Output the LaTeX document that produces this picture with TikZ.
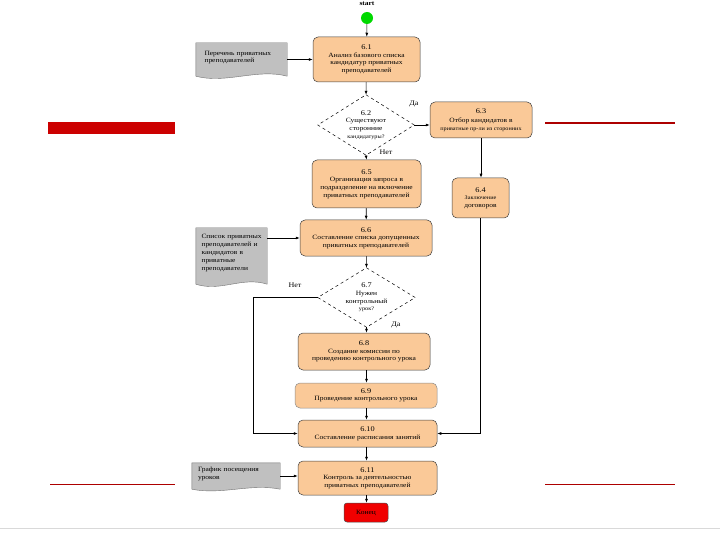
\documentclass[tikz,border=0pt]{standalone}
\usepackage{fontspec}
\setmainfont{Liberation Serif}[FakeStretch=1.15]
\usetikzlibrary{arrows.meta,calc}
\definecolor{boxfill}{RGB}{250,201,152}
\definecolor{docfill}{RGB}{192,192,192}
\definecolor{slidered}{RGB}{204,0,0}
\definecolor{endred}{RGB}{240,0,0}
\newcommand{\nb}[1]{{\fontsize{7.2}{8}\selectfont #1}}
\newcommand{\sm}[1]{{\fontsize{5.4}{6.5}\selectfont #1}}
\begin{document}
\begin{tikzpicture}[x=1pt,y=-1pt,
  txt/.style={font=\fontsize{6.5}{7.6}\selectfont, align=center, inner sep=1pt},
  box/.style={txt, draw=black!75, line width=0.5pt, fill=boxfill, rounded corners=5pt},
  dec/.style={txt, inner sep=0pt},
  docnode/.style={font=\fontsize{6.5}{7.8}\selectfont, align=left, inner sep=0pt, anchor=center},
  docshape/.style={fill=docfill, draw=black!55, line width=0.4pt},
  arr/.style={-{Latex[length=4pt,width=3pt]}, line width=0.6pt, black},
  lab/.style={font=\fontsize{7}{7.5}\selectfont, inner sep=0pt}]
\useasboundingbox (0,0) rectangle (720,540);
\fill[white] (0,0) rectangle (720,540);
% slide decoration
\fill[slidered] (48,122) rectangle (175,134);
\draw[slidered!85!black, line width=1.2pt] (545,123) -- (675,123);
\draw[slidered!85!black, line width=0.8pt] (50,484) -- (175,484);
\draw[slidered!85!black, line width=0.8pt] (545,484) -- (675,484);
\draw[black!15, line width=0.6pt] (0,528) -- (720,528);

% start
\node[font=\bfseries\fontsize{6.5}{7}\selectfont, inner sep=0pt] (st) at (367,4) {start};
\node[circle, fill=green!85!black, minimum size=12pt, inner sep=0pt] (s0) at (367,18) {};

% boxes
\node[box, minimum width=107pt, minimum height=45pt] (n61) at (366.5,59.5)
  {\nb{6.1}\\Анализ базового списка\\кандидатур приватных\\преподавателей};
\node[minimum width=96pt, minimum height=60pt, dec] (d62) at (366,125)
  {\nb{6.2}\\Существуют\\сторонние\\\sm{кандидатуры?}};
\draw[dashed, line width=0.5pt] (d62.north) -- (d62.east) -- (d62.south) -- (d62.west) -- cycle;
\node[box, minimum width=102pt, minimum height=36pt] (n63) at (481,120)
  {\nb{6.3}\\[2pt]Отбор кандидатов в\\\sm{приватные пр-ли из сторонних}};
\node[box, minimum width=57pt, minimum height=40pt] (n64) at (480.5,198)
  {\nb{6.4}\\\sm{Заключение}\\договоров};
\node[box, minimum width=109pt, minimum height=48pt] (n65) at (366.5,184)
  {\nb{6.5}\\Организация запроса в\\подразделение на включение\\приватных преподавателей};
\node[box, minimum width=132pt, minimum height=36pt] (n66) at (366,238)
  {\nb{6.6}\\Составление списка допущенных\\приватных преподавателей};
\node[minimum width=97pt, minimum height=59pt, dec] (d67) at (366.5,297.5)
  {\nb{6.7}\\Нужен\\контрольный\\\sm{урок?}};
\draw[dashed, line width=0.5pt] (d67.north) -- (d67.east) -- (d67.south) -- (d67.west) -- cycle;
\node[box, minimum width=132pt, minimum height=37pt] (n68) at (364,351.5)
  {\nb{6.8}\\Создание комиссии по\\проведению контрольного урока};
\node[box, draw=black!45, minimum width=142pt, minimum height=25pt] (n69) at (366,395.5)
  {\nb{6.9}\\Проведение контрольного урока};
\node[box, minimum width=139pt, minimum height=27pt] (n610) at (367.5,433.5)
  {\nb{6.10}\\Составление расписания занятий};
\node[box, minimum width=139pt, minimum height=34pt] (n611) at (367.5,478)
  {\nb{6.11}\\Контроль за деятельностью\\приватных преподавателей};
\node[box, fill=endred, draw=black!70, rounded corners=3pt, minimum width=44pt, minimum height=19pt] (end) at (366,512.5) {Конец};

% documents
\node[docnode, minimum width=91pt, minimum height=33pt] (d1) at (241.5,59.5) {};
\draw[docshape] (d1.north west) -- (d1.north east) -- (d1.south east)
  .. controls +(-30,-8) and +(30,8) .. (d1.south west) -- cycle;
\node[docnode, text width=80pt] at ($(d1)+(3,-2)$) {Перечень приватных\\преподавателей};

\node[docnode, minimum width=71pt, minimum height=56pt] (d2) at (231.5,256) {};
\draw[docshape] (d2.north west) -- (d2.north east) -- (d2.south east)
  .. controls +(-25,-8) and +(25,8) .. (d2.south west) -- cycle;
\node[docnode, text width=64pt] at ($(d2)+(2,-3)$) {Список приватных\\преподавателей и\\кандидатов в\\приватные\\преподаватели};

\node[docnode, minimum width=88pt, minimum height=26pt] (d3) at (236,476) {};
\draw[docshape] (d3.north west) -- (d3.north east) -- (d3.south east)
  .. controls +(-30,-6) and +(30,6) .. (d3.south west) -- cycle;
\node[docnode, text width=80pt] at ($(d3)+(2,-2)$) {График посещения\\уроков};

% connectors
\draw[arr] (s0) -- (n61);
\draw[arr] (d1.east) -- (d1.east -| n61.west);
\draw[arr] (n61) -- (d62.north);
\draw[arr] (d62.east) -- (d62.east -| n63.west);
\draw[arr] (n63.south) -- (n63.south |- n64.north);
\draw[arr] (d62.south) -- (n65.north);
\draw[arr] (n65) -- (n66);
\draw[arr] (d2.east |- n66.west) -- (n66.west);
\draw[arr] (n66) -- (d67.north);
\draw[arr] (d67.south) -- (d67.south |- n68.north);
\draw[arr] (n68.south -| d67.south) -- (d67.south |- n69.north);
\draw[arr] (n69.south -| d67.south) -- (d67.south |- n610.north);
\draw[arr] (d67.west) -- ++(-65,0) |- (n610.west);
\draw[arr] (n64.south) -- (n64.south |- n610.east) -- (n610.east);
\draw[arr] (n610.south -| d67.south) -- (d67.south |- n611.north);
\draw[arr] (d3.east) -- (d3.east -| n611.west);
\draw[arr] (n611.south -| d67.south) -- (d67.south |- end.north);

% labels
\node[lab] at (414,104) {Да};
\node[lab] at (386,152) {Нет};
\node[lab] at (295,285) {Нет};
\node[lab] at (396,325) {Да};
\end{tikzpicture}
\end{document}
